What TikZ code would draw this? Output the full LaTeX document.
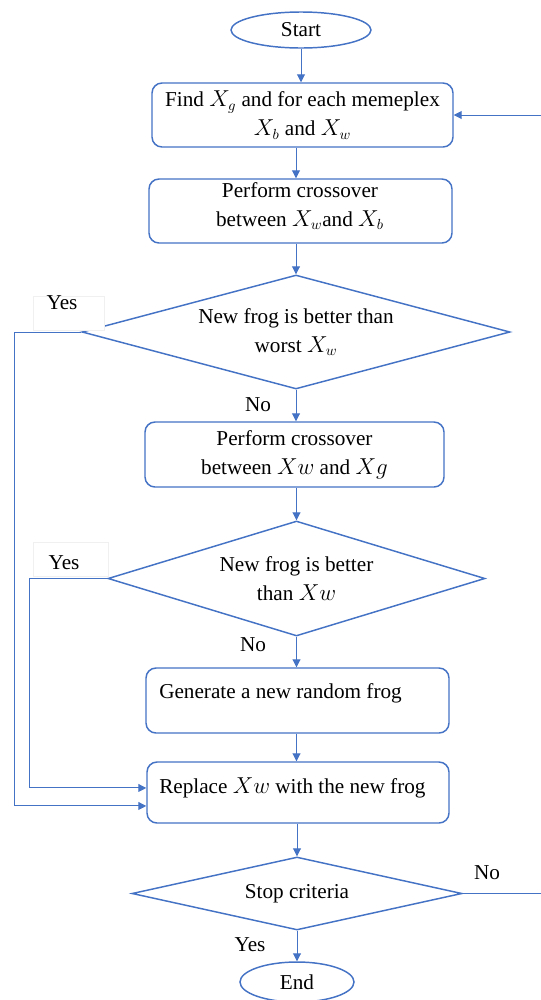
\documentclass[tikz,border=0pt]{standalone}
\usepackage{fontspec}
\setmainfont{Liberation Serif}
\usetikzlibrary{shapes.geometric,arrows.meta}
\definecolor{flowblue}{HTML}{4472C4}
\begin{document}
\begin{tikzpicture}[x=0.75pt,y=-0.75pt,
  font=\fontsize{15.9}{21.9}\selectfont,
  shape line/.style={draw=flowblue, line width=1.1pt},
  procbox/.style={shape line, rectangle, rounded corners=7.5pt, inner sep=0pt, align=center},
  decision/.style={shape line, diamond, inner sep=0pt, align=center},
  terminal/.style={shape line, ellipse, inner sep=0pt},
  flow/.style={draw=flowblue, line width=0.75pt, -{Triangle[length=6pt,width=6pt]}},
  plainflow/.style={draw=flowblue, line width=0.75pt},
  tag/.style={inner sep=0pt},
  tagbox/.style={draw=black!6, fill=white, inner sep=0pt, minimum height=25.5pt},
]
\useasboundingbox (0,0) rectangle (541,1000);

% rails and edge coordinates for the side connectors
\coordinate (yesrailA) at (14,0);
\coordinate (yesrailB) at (29,0);
\coordinate (rightedge) at (541,0);
\coordinate (axis) at (296,0);

% process steps
\node[terminal, minimum width=105pt, minimum height=27pt] (start) at (301,30) {Start};
\node[procbox, minimum width=225.75pt, minimum height=48pt] (find) at (302.5,115)
  {Find $X_g$ and for each memeplex\\$X_b$ and $X_w$};
\node[procbox, minimum width=227.25pt, minimum height=48pt] (cross1) at (300.5,211) {};
\node[tag, align=center] (cross1T) at (300,206) {Perform crossover\\between $X_w$and $X_b$};
\node[decision, shape aspect=3.75, minimum width=321pt, minimum height=85.5pt] (test1) at (296,332)
  {New frog is better than\\worst $X_w$};
\node[procbox, minimum width=224.25pt, minimum height=48.75pt] (cross2) at (294.5,454.5)
  {Perform crossover\\between $Xw$ and $Xg$};
\node[decision, shape aspect=3.28, minimum width=282.75pt, minimum height=86.25pt] (test2) at (296.5,578.5)
  {New frog is better\\than $Xw$};
\node[procbox, minimum width=227.25pt, minimum height=48.75pt] (gen) at (297.5,700.5) {};
\node[tag, anchor=west] (genT) at (159,693) {Generate a new random frog};
\node[procbox, minimum width=226.5pt, minimum height=45.75pt] (repl) at (298,792.5) {};
\node[tag, anchor=west] (replT) at (159,788) {Replace $Xw$ with the new frog};
\node[decision, shape aspect=4.5, minimum width=247.5pt, minimum height=54.75pt] (stop) at (297,893.5) {Stop criteria};
\node[terminal, minimum width=85.5pt, minimum height=30pt] (end) at (297,982) {End};

% main flow
\draw[flow] (start.south) -- (start.south |- find.north);
\draw[flow] (find.south -| axis) -- (cross1.north -| axis);
\draw[flow] (cross1.south -| test1.north) -- (test1.north);
\draw[flow] (test1.south) -- (test1.south |- cross2.north);
\draw[flow] (cross2.south -| test2.north) -- (test2.north);
\draw[flow] (test2.south) -- (test2.south |- gen.north);
\draw[flow] (gen.south -| test2.north) -- (test2.north |- repl.north);
\draw[flow] (repl.south -| stop.north) -- (stop.north);
\draw[flow] (stop.south) -- (end.north);

% "Yes" branches back into the replace step
\draw[flow] (test1.west) -- (test1.west -| yesrailA) |- ([yshift=-10.1pt]repl.west);
\draw[flow] (test2.west) -- (test2.west -| yesrailB) |- ([yshift=3.4pt]repl.west);

% outer loop
\draw[plainflow] (stop.east) -- (stop.east -| rightedge);
\draw[flow] (find.east -| rightedge) -- (find.east);

% branch labels
\node[tagbox, minimum width=53.25pt] (yesbox1) at (68.5,313) {};
\node[tag] (yes1) at (62,303) {Yes};
\node[tagbox, minimum width=56.25pt] (yesbox2) at (70.5,559) {};
\node[tag] (yes2) at (64,563) {Yes};
\node[tag] (no1) at (258,405) {No};
\node[tag] (no2) at (253,645) {No};
\node[tag] (no3) at (487,873) {No};
\node[tag] (yes3) at (250,945) {Yes};
\end{tikzpicture}
\end{document}
